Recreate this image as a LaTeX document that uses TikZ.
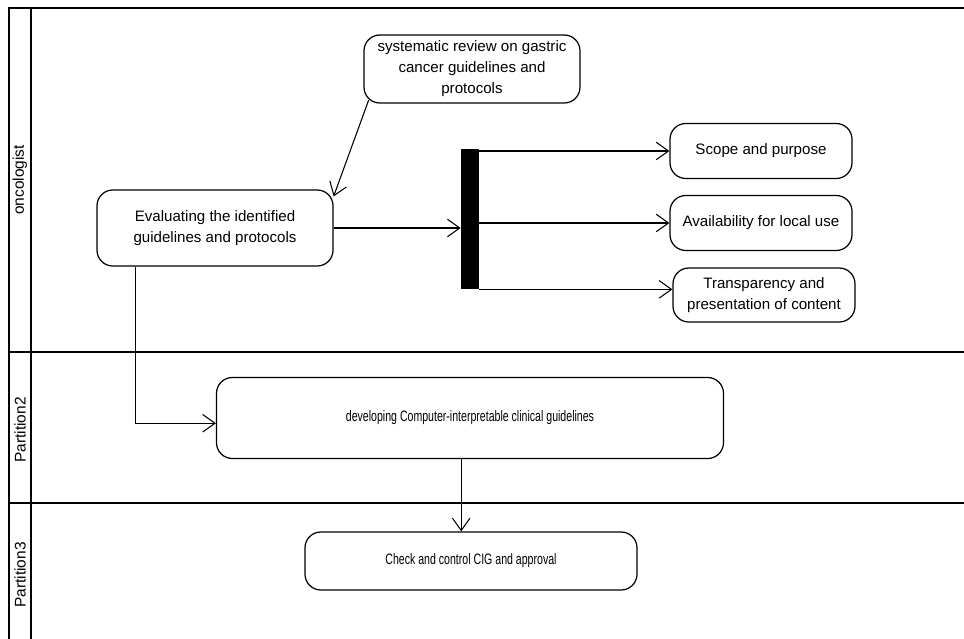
\documentclass[tikz,border=0pt]{standalone}
\usepackage{fontspec}
\setmainfont{Liberation Sans}
\usetikzlibrary{arrows.meta,calc}

\begin{document}
\begin{tikzpicture}[x=0.02cm, y=-0.02cm,
    actbox/.style={draw, line width=0.7pt, rounded corners=9pt, align=center, font=\fontsize{8.6}{12}\selectfont, inner sep=2pt},
    lanelabel/.style={rotate=90, font=\fontsize{8.8}{10}\selectfont},
    flow/.style={-{Straight Barb[length=7pt,width=10pt]}, line width=0.6pt}]
    \useasboundingbox (0,0) rectangle (964,639);
    % swimlanes
    \draw[line width=1.6pt] (964,8) -- (9,8) -- (9,639);
    \draw[line width=1.6pt] (31,8) -- (31,639);
    \foreach \y in {352,503}
        {
            \draw[line width=1.6pt] (9,\y) -- (964,\y);
        }
    \node[lanelabel] (lane1) at (20,180) {oncologist};
    \node[lanelabel] (lane2) at (20,430) {Partition2};
    \node[lanelabel] (lane3) at (20,575) {Partition3};
    % actions
    \node[actbox, minimum width=216*0.02cm, minimum height=68*0.02cm] (sysrev) at (472,69) {systematic review on gastric\\cancer guidelines and\\protocols};
    \node[actbox, minimum width=236*0.02cm, minimum height=76*0.02cm] (eval) at (215,228) {Evaluating the identified\\guidelines and protocols};
    \node[fill=black, inner sep=0pt, minimum width=18*0.02cm, minimum height=140*0.02cm] (bar) at (470,219) {};
    \node[actbox, minimum width=182*0.02cm, minimum height=55*0.02cm] (scope) at (761,151) {Scope and purpose};
    \node[actbox, minimum width=182*0.02cm, minimum height=55*0.02cm] (avail) at (761,223) {Availability for local use};
    \node[actbox, minimum width=182*0.02cm, minimum height=54*0.02cm] (trans) at (764,295) {Transparency and\\presentation of content};
    \node[actbox, minimum width=507*0.02cm, minimum height=81*0.02cm] (dev) at (470,418) {\scalebox{0.7}[1]{developing Computer-interpretable clinical guidelines}};
    \node[actbox, minimum width=332*0.02cm, minimum height=58*0.02cm] (check) at (471,561) {\scalebox{0.7}[1]{Check and control CIG and approval}};
    % flows
    \draw[flow] ([xshift=3pt,yshift=2pt]sysrev.south west) -- ([yshift=-4pt]eval.north east);
    \draw[flow] (eval.east) -- (eval.east -| bar.west);
    \draw[flow] (bar.east |- scope.west) -- (scope.west);
    \draw[flow] (bar.east |- avail.west) -- (avail.west);
    \draw[flow] (bar.south east) -- (bar.south east -| trans.west);
    \draw[flow] ([xshift=22pt]eval.south west) |- ([yshift=-3pt]dev.west);
    \draw[flow] ([xshift=-5pt]dev.south) -- ([xshift=-5pt]dev.south |- check.north);
\end{tikzpicture}
\end{document}
